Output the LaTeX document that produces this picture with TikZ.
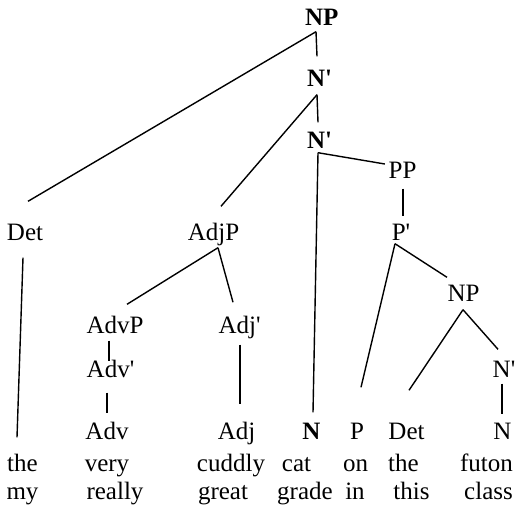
\documentclass[tikz,border=0pt]{standalone}
\usepackage{fontspec}
\setmainfont{Liberation Serif}
\newcommand{\pr}{\textquotesingle}

\begin{document}
\begin{tikzpicture}[x=1pt,y=-1pt,line width=1.4pt]
            \tikzstyle{every node}+=[inner sep=0pt, text height=16pt, text depth=0pt, anchor=base, font=\fontsize{25}{28}\selectfont]
            \useasboundingbox (0,0) rectangle (526,512);
            % upper part of the tree
            \node (np1) at (321.7,25) {\textbf{NP}};
            \node (nbar1) at (319.5,86) {\textbf{N\pr}};
            \node (nbar2) at (319.5,148) {\textbf{N\pr}};
            \node (pp) at (402.5,178) {PP};
            \node (det1) at (25,240) {Det};
            \node (adjp) at (213.5,240) {AdjP};
            \node (pbar) at (401,240) {P\pr};
            \node (np2) at (463.5,301) {NP};
            \node (advp) at (115,333) {AdvP};
            \node (adjbar) at (239.5,333) {Adj\pr};
            \node (advbar) at (110.5,377) {Adv\pr};
            \node (nbar3) at (504,377) {N\pr};
            % heads
            \node (adv) at (107,439) {Adv};
            \node (adj) at (236.5,439) {Adj};
            \node (n1) at (311.5,439) {\textbf{N}};
            \node (p) at (357,439) {P};
            \node (det2) at (406.5,439) {Det};
            \node (n2) at (502.5,439) {N};
            % words
            \node (the1) at (22.5,471) {the};
            \node (very) at (107,471) {very};
            \node (cuddly) at (231,471) {cuddly};
            \node (cat) at (296.5,471) {cat};
            \node (on) at (355.5,471) {on};
            \node (the2) at (403.5,471) {the};
            \node (futon) at (486.5,471) {futon};
            \node (my) at (22.5,499) {my};
            \node (really) at (115,499) {really};
            \node (great) at (223,499) {great};
            \node (grade) at (305,499) {grade};
            \node (in) at (355,499) {in};
            \node (this) at (411.5,499) {this};
            \node (class) at (488.5,499) {class};
            % branches
            \draw ([shift={(-5.7,6)}]np1.south) -- ([shift={(3,-22)}]det1.north);
            \draw ([shift={(-5.7,6)}]np1.south) -- ([shift={(-2.5,-13)}]nbar1.north);
            \draw ([shift={(-2.5,8)}]nbar1.south) -- ([shift={(7.5,-17)}]adjp.north);
            \draw ([shift={(-2.5,8)}]nbar1.south) -- ([shift={(-1.5,-9)}]nbar2.north);
            \draw ([shift={(-1.5,4)}]nbar2.south) -- ([shift={(-3,-6)}]pp.west);
            \draw ([shift={(-1.5,4)}]nbar2.south) -- ([shift={(1.5,-10)}]n1.north);
            \draw ([shift={(0.5,10)}]pp.south) -- ([shift={(2,-7)}]pbar.north);
            \draw ([shift={(-6,3)}]pbar.south) -- ([shift={(4,-35)}]p.north);
            \draw ([shift={(-6,3)}]pbar.south) -- ([shift={(-16.5,-7)}]np2.north);
            \draw ([shift={(-2,17)}]det1.south) -- ([shift={(-5.5,-17)}]the1.north);
            \draw ([shift={(4.5,7)}]adjp.south) -- ([shift={(12,-12)}]advp.north);
            \draw ([shift={(4.5,7)}]adjp.south) -- ([shift={(-6.5,-14)}]adjbar.north);
            \draw ([shift={(-6,7)}]advp.south) -- ([shift={(-1.5,1)}]advbar.north);
            \draw ([shift={(-3.5,15)}]advbar.south) -- ([shift={(0,-9)}]adv.north);
            \draw ([shift={(0.5,11)}]adjbar.south) -- ([shift={(3.5,-18)}]adj.north);
            \draw ([shift={(-0.5,8)}]np2.south) -- ([shift={(2.5,-32)}]det2.north);
            \draw ([shift={(-0.5,8)}]np2.south) -- ([shift={(-6,-11)}]nbar3.north);
            \draw ([shift={(-2,6)}]nbar3.south) -- ([shift={(-0.5,-8)}]n2.north);
\end{tikzpicture}
\end{document}
